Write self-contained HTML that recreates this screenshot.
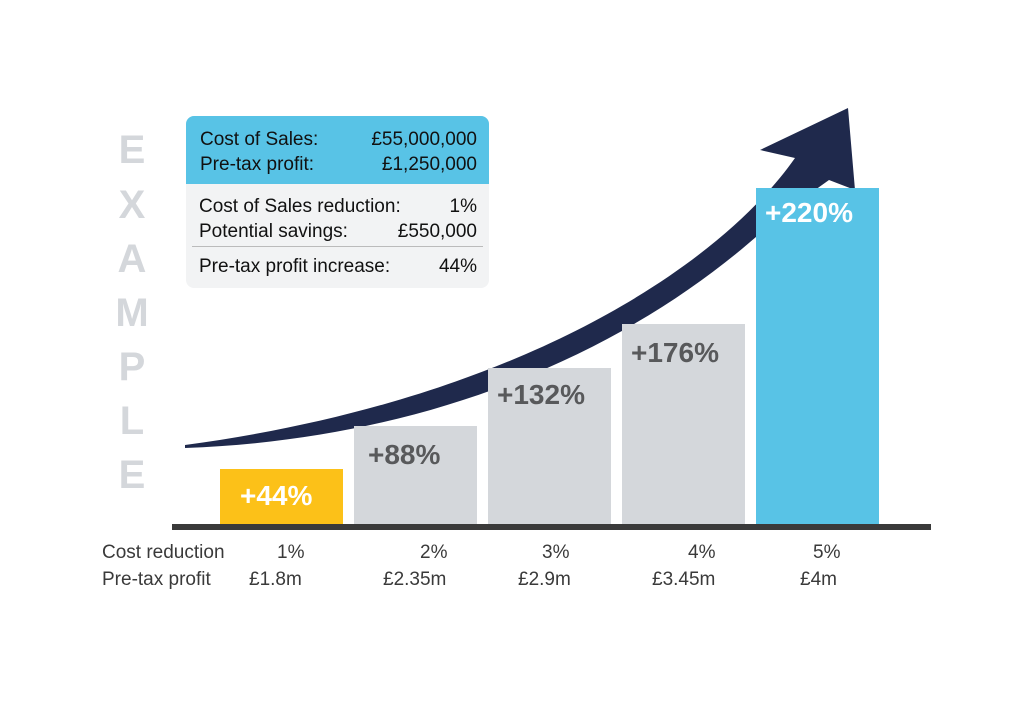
<!DOCTYPE html>
<html><head><style>
body{margin:0;width:1024px;height:702px;background:#fff;overflow:hidden;position:relative;font-family:"Liberation Sans",sans-serif}
.a{position:absolute}
.bar{position:absolute;background:#d4d7db}
.bl{position:absolute;font-weight:bold;font-size:28px;color:#58595b}
.ex{position:absolute;left:112px;width:40px;text-align:center;color:#d4d7db;font-weight:bold;font-size:40px}
.t{position:absolute;font-size:19px;color:#3a3a3a}
</style></head><body>
<svg class="a" style="left:0;top:0" width="1024" height="702">
<path d="M848,108 L760,150 L795,158 C720,265 520,400 185,445 L185,448 C460,438 660,330 780,215 L829,180 L855,190 Z" fill="#1f294c"/>
</svg>
<div class="bar" style="left:220px;top:469px;width:123px;height:56px;background:#fcc118"></div>
<div class="bl" style="left:240px;top:480px;color:#fff">+44%</div>
<div class="bar" style="left:354px;top:426px;width:123px;height:99px"></div>
<div class="bl" style="left:368px;top:439px">+88%</div>
<div class="bar" style="left:488px;top:368px;width:123px;height:157px"></div>
<div class="bl" style="left:497px;top:379px">+132%</div>
<div class="bar" style="left:622px;top:324px;width:123px;height:201px"></div>
<div class="bl" style="left:631px;top:337px">+176%</div>
<div class="bar" style="left:756px;top:188px;width:123px;height:337px;background:#58c3e6"></div>
<div class="bl" style="left:765px;top:197px;color:#fff">+220%</div>
<div class="a" style="left:172px;top:524px;width:759px;height:6px;background:#3a3a3a"></div>
<div class="ex" style="top:128px">E</div>
<div class="ex" style="top:183px">X</div>
<div class="ex" style="top:237px">A</div>
<div class="ex" style="top:291px">M</div>
<div class="ex" style="top:345px">P</div>
<div class="ex" style="top:399px">L</div>
<div class="ex" style="top:453px">E</div>
<div class="a" style="left:186px;top:116px;width:303px;height:172px;background:#f2f3f4;border-radius:8px;overflow:hidden;font-size:19px;color:#111">
 <div style="background:#58c3e6;height:68px;position:relative">
  <div class="a" style="left:14px;top:13px">Cost of Sales:</div><div class="a" style="right:12px;top:13px">£55,000,000</div>
  <div class="a" style="left:14px;top:38px">Pre-tax profit:</div><div class="a" style="right:12px;top:38px">£1,250,000</div>
 </div>
 <div class="a" style="left:13px;top:80px">Cost of Sales reduction:</div><div class="a" style="right:12px;top:80px">1%</div>
 <div class="a" style="left:13px;top:105px">Potential savings:</div><div class="a" style="right:12px;top:105px">£550,000</div>
 <div class="a" style="left:6px;top:130px;width:291px;height:1px;background:#bbb"></div>
 <div class="a" style="left:13px;top:140px">Pre-tax profit increase:</div><div class="a" style="right:12px;top:140px">44%</div>
</div>
<div class="t" style="left:102px;top:542px">Cost reduction</div>
<div class="t" style="left:102px;top:569px">Pre-tax profit</div>
<div class="t" style="left:277px;top:542px">1%</div><div class="t" style="left:249px;top:569px">£1.8m</div>
<div class="t" style="left:420px;top:542px">2%</div><div class="t" style="left:383px;top:569px">£2.35m</div>
<div class="t" style="left:542px;top:542px">3%</div><div class="t" style="left:518px;top:569px">£2.9m</div>
<div class="t" style="left:688px;top:542px">4%</div><div class="t" style="left:652px;top:569px">£3.45m</div>
<div class="t" style="left:813px;top:542px">5%</div><div class="t" style="left:800px;top:569px">£4m</div>
</body></html>
